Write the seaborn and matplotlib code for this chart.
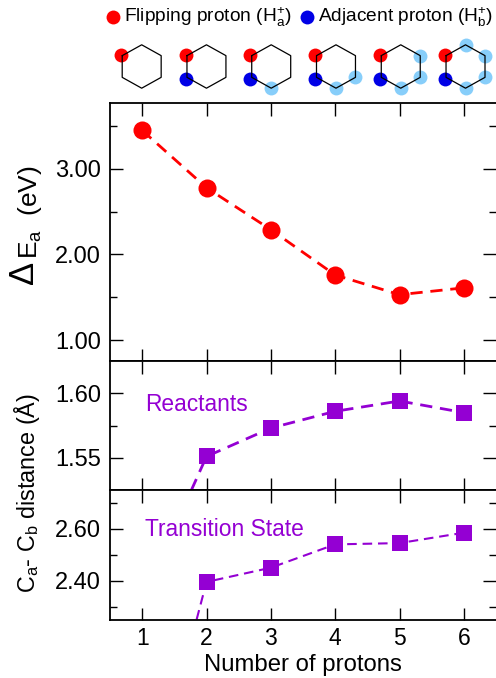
import numpy as np
import pandas as pd
import matplotlib
matplotlib.use("Agg")
import matplotlib.pyplot as plt
import seaborn as sns

protons = [1, 2, 3, 4, 5, 6]
delta_e = [3.45, 2.78, 2.29, 1.76, 1.53, 1.61]
cc_reactants = [1.44, 1.551, 1.573, 1.586, 1.594, 1.585]
cc_ts = [1.45, 2.395, 2.45, 2.54, 2.545, 2.585]
flipping = [1, 1, 1, 1, 1, 1]
adjacent = [0, 1, 1, 1, 1, 1]
# vertices occupied by extra protons, per structure
extra_sites = [[], [], [2], [2, 3], [2, 3, 4], [2, 3, 4, 5]]

RED = "#ff0000"; BLUE = "#0000e6"; LIGHT = "#87cefa"; PURPLE = "#9400d3"

sns.set_theme(style="ticks")
plt.rcParams["font.family"] = ["Liberation Sans", "DejaVu Sans"]
plt.rcParams["mathtext.fontset"] = "custom"
plt.rcParams["mathtext.rm"] = "Liberation Sans"
plt.rcParams["mathtext.it"] = "Liberation Sans"
plt.rcParams["mathtext.bf"] = "Liberation Sans"

W, H = 496, 678
fig = plt.figure(figsize=(W/100, H/100), dpi=100, facecolor="white")

def make_ax(top, bottom):
    return fig.add_axes([110/W, 1-bottom/H, 386/W, (bottom-top)/H])

ax1 = make_ax(103, 361)
ax2 = make_ax(361, 490)
ax3 = make_ax(490, 619.5)

df = pd.DataFrame({"n": protons, "e": delta_e, "r": cc_reactants, "t": cc_ts})
sns.lineplot(data=df, x="n", y="e", ax=ax1, color=RED, marker="o", markersize=13,
             linestyle=(0, (4.4, 2.8)), linewidth=2, markeredgewidth=0)
sns.lineplot(data=df, x="n", y="r", ax=ax2, color=PURPLE, marker="s", markersize=11.5,
             linestyle=(0, (4.4, 2.8)), linewidth=2, markeredgewidth=0)
sns.lineplot(data=df, x="n", y="t", ax=ax3, color=PURPLE, marker="s", markersize=11.5,
             linestyle=(0, (4.6, 2.8)), linewidth=1.5, markeredgewidth=0)

ax1.set_ylim(0.755, 3.77)
ax2.set_ylim(1.525, 1.625)
ax3.set_ylim(2.25, 2.75)
ax1.set_yticks([1, 2, 3]); ax1.set_yticks([1.5, 2.5, 3.5], minor=True)
ax2.set_yticks([1.55, 1.60]); ax2.set_yticks([1.575], minor=True)
ax3.set_yticks([2.4, 2.6]); ax3.set_yticks([2.3, 2.5, 2.7], minor=True)
for a in (ax1, ax2, ax3):
    a.set_xlim(0.5, 6.5)
    a.set_xticks(protons)
    a.set_xlabel(""); a.set_ylabel("")
    a.set_yticklabels(["{:.2f}".format(t) for t in a.get_yticks()])
    a.tick_params(axis="x", which="major", direction="in", length=9, width=1.0,
                  top=True, bottom=True, color="black", labelcolor="black", labelsize=16.5, pad=5.5)
    a.tick_params(axis="y", which="major", direction="in", length=9.5, width=1.0,
                  left=True, right=True, color="black", labelcolor="black", labelsize=17, pad=6.5)
    a.tick_params(axis="y", which="minor", direction="in", length=4.8, width=1.0,
                  left=True, right=True, color="black")
    for s in a.spines.values():
        s.set_linewidth(1.3); s.set_color("black"); s.set_visible(True)
    a.spines["right"].set_visible(False)
ax1.tick_params(axis="x", labelbottom=False)
ax2.tick_params(axis="x", labelbottom=False)
ax3.set_xlabel("Number of protons", fontsize=17.2, labelpad=3, color="black")

ax2.text(0.09, 0.665, "Reactants", transform=ax2.transAxes, color=PURPLE, fontsize=16.4, va="center")
ax3.text(0.09, 0.695, "Transition State", transform=ax3.transAxes, color=PURPLE, fontsize=16.4, va="center")

fig.text(24/W, 1-272/H, "Δ", rotation=90, fontsize=25, ha="center", va="center", color="black")
fig.text(30/W, 1-212/H, r"E$_{\mathrm{a}}$  (eV)", rotation=90, fontsize=19, ha="center", va="center", color="black")
fig.text(27/W, 1-493/H, r"C$_{\mathrm{a}}$- C$_{\mathrm{b}}$ distance (Å)", rotation=90,
         fontsize=16.8, ha="center", va="center", color="black")

# Structures strip: nearly the panels' x scale, y in pixels
strip = fig.add_axes([109.3/W, 1-100/H, 388.6/W, 72/H], frameon=False)
strip.set_xlim(0.5, 6.5); strip.set_ylim(100, 28); strip.axis("off")
px = 388.6/6
R = 21.7
RX = 22.5
angles = np.deg2rad([150, 210, 270, 330, 30, 90])  # upper-left, lower-left, bottom, lower-right, upper-right, top
yc = 66.5
for i, n in enumerate(protons):
    vx = n + RX*np.cos(angles)/px
    vy = yc - R*np.sin(angles)
    for j in extra_sites[i]:
        strip.plot(vx[j], vy[j], "o", color=LIGHT, ms=10, mew=0, zorder=1)
    if flipping[i]:
        strip.plot(vx[0]-0.02, vy[0]-0.3, "o", color=RED, ms=10, mew=0, zorder=2)
    if adjacent[i]:
        strip.plot(vx[1]-0.02, vy[1]+1.5, "o", color=BLUE, ms=10, mew=0, zorder=2)
    strip.plot(np.r_[vx, vx[0]], np.r_[vy, vy[0]], color="black", lw=0.9, zorder=3)

# Legend row
leg = fig.add_axes([0, 1-30/H, 1, 30/H], frameon=False)
leg.set_xlim(0, W); leg.set_ylim(30, 0); leg.axis("off")
leg.plot([112.7], [16.5], "o", color=RED, ms=10, mew=0)
leg.plot([307], [16.5], "o", color=BLUE, ms=10, mew=0)
leg.text(124, 17.5, r"Flipping proton (H$_{\mathrm{a}}^{+}$)", fontsize=13.8, va="center", color="black")
leg.text(318, 17.5, r"Adjacent proton (H$_{\mathrm{b}}^{+}$)", fontsize=13.8, va="center", color="black")

fig.savefig("out.png", dpi=100, facecolor="white")
